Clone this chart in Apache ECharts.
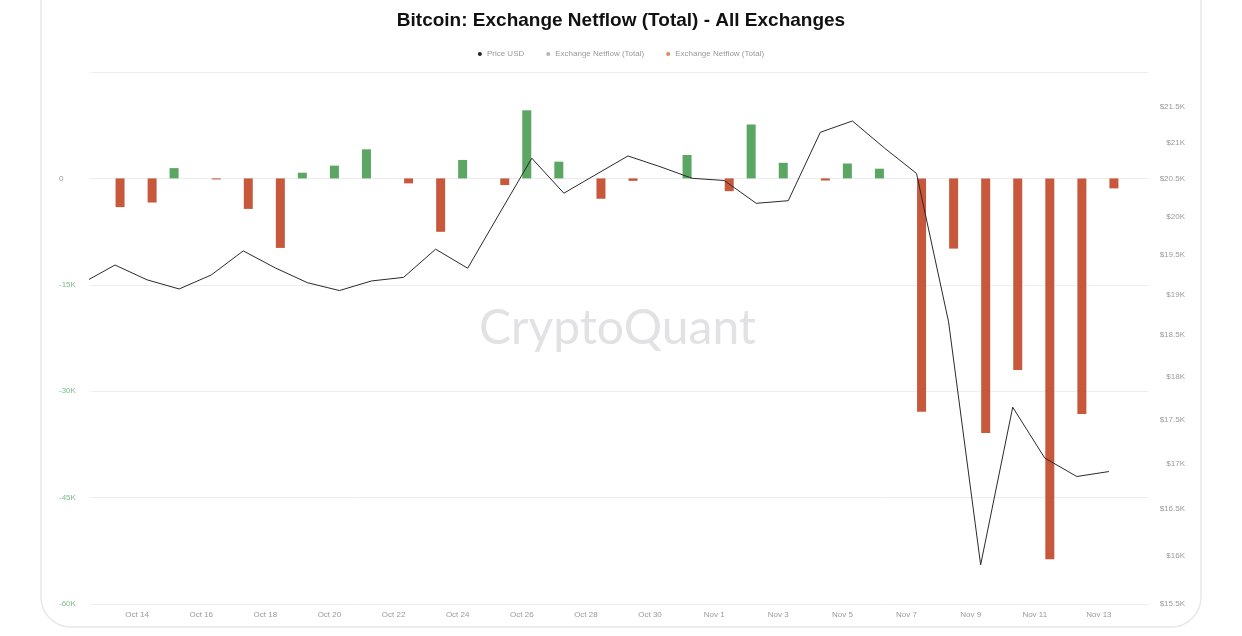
<!DOCTYPE html>
<html>
<head>
<meta charset="utf-8">
<script src="https://cdn.jsdelivr.net/npm/echarts@6/dist/echarts.min.js"></script>
<style>
  html, body { margin: 0; padding: 0; background: #fff; }
  #chart { width: 1242px; height: 636px; }
</style>
</head>
<body>
<div id="chart"></div>
<script>
// day index 0 = Oct 12
var dates = ['Oct 12', 'Oct 13', 'Oct 14', 'Oct 15', 'Oct 16', 'Oct 17', 'Oct 18', 'Oct 19', 'Oct 20', 'Oct 21',
  'Oct 22', 'Oct 23', 'Oct 24', 'Oct 25', 'Oct 26', 'Oct 27', 'Oct 28', 'Oct 29', 'Oct 30', 'Oct 31',
  'Nov 1', 'Nov 2', 'Nov 3', 'Nov 4', 'Nov 5', 'Nov 6', 'Nov 7', 'Nov 8', 'Nov 9', 'Nov 10',
  'Nov 11', 'Nov 12', 'Nov 13'];

var priceUsd = [19150, 19375, 19187, 19072, 19248, 19556, 19338, 19151, 19052, 19173,
  19218, 19578, 19334, 20050, 20786, 20313, 20564, 20817, 20671, 20513,
  20484, 20178, 20213, 21144, 21302, 20926, 20579, 18663, 15905, 17644,
  17063, 16857, 16912];

// exchange netflow (BTC), null = no bar
var netflow = [null, -4050, -3400, 1450, -150, -4300, -9800, 800, 1800, 4100,
  -700, -7530, 2600, -940, 9600, 2360, -2870, -350, null, 3300,
  -1800, 7600, 2200, -300, 2100, 1370, -32900, -9900, -35900, -27000,
  -53700, -33200, -1410];

var xTickDays = [2, 4, 6, 8, 10, 12, 14, 16, 18, 20, 22, 24, 26, 28, 30, 32];
var priceTicks = [15500, 16000, 16500, 17000, 17500, 18000, 18500, 19000, 19500, 20000, 20500, 21000, 21500];
var priceTickLabels = ['$15.5K', '$16K', '$16.5K', '$17K', '$17.5K', '$18K', '$18.5K', '$19K', '$19.5K', '$20K', '$20.5K', '$21K', '$21.5K'];

var inflow = [], outflow = [], priceLine = [];
for (var i = 0; i < dates.length; i++) {
  priceLine.push([i, priceUsd[i]]);
  if (netflow[i] === null) continue;
  if (netflow[i] > 0) inflow.push([i, netflow[i]]);
  else outflow.push([i, netflow[i]]);
}

var myChart = echarts.init(document.getElementById('chart'));
var option = {
  backgroundColor: '#fff',
  animation: false,
  title: {
    text: 'Bitcoin: Exchange Netflow (Total) - All Exchanges',
    left: 'center',
    top: 6,
    textStyle: { fontFamily: 'Liberation Sans', fontSize: 19, fontWeight: 'bold', color: '#111' }
  },
  legend: {
    top: 45,
    left: 'center',
    icon: 'circle',
    itemWidth: 4,
    itemHeight: 4,
    itemGap: 22,
    textStyle: { fontSize: 8, color: '#999', fontFamily: 'Liberation Sans' },
    formatter: function (name) {
      return name === 'Price USD' ? name : 'Exchange Netflow (Total)';
    },
    data: [
      { name: 'Price USD', itemStyle: { color: '#222' } },
      { name: 'Inflow', itemStyle: { color: '#b5b5b5' } },
      { name: 'Outflow', itemStyle: { color: '#e08a5a' } }
    ]
  },
  graphic: [
    {
      type: 'rect', silent: true, z: -10,
      shape: { x: 41, y: -40, width: 1160, height: 667, r: 30 },
      style: { fill: 'none', stroke: '#e8e8e8', lineWidth: 1.5 }
    },
    {
      type: 'text', silent: true, z: -5,
      left: 479, top: 305,
      style: { text: 'CryptoQuant', fontSize: 48, fontFamily: 'Lato', fill: '#e2e2e5' }
    }
  ],
  grid: { left: 90, right: 94, top: 72, bottom: 32 },
  xAxis: {
    type: 'value',
    min: 0.22,
    max: 33.22,
    splitLine: { show: false },
    axisTick: { show: false },
    axisLine: { lineStyle: { color: '#ececec' } },
    axisLabel: {
      customValues: xTickDays,
      formatter: function (v) { return dates[v]; },
      fontSize: 8,
      color: '#9a9a9a',
      margin: 7,
      padding: [0, 20, 0, 0]
    }
  },
  yAxis: [
    {
      type: 'value',
      min: -60000,
      max: 15000,
      interval: 15000,
      axisLine: { show: false },
      axisTick: { show: false },
      splitLine: { lineStyle: { color: '#ededed' } },
      axisLabel: {
        showMaxLabel: false,
        align: 'left',
        margin: 31,
        fontSize: 8,
        color: function (v) { return Number(v) === 0 ? '#999' : '#7fba8c'; },
        formatter: function (v) { return v === 0 ? '0' : (v / 1000) + 'K'; }
      }
    },
    {
      type: 'log',
      min: 15500,
      max: 22000,
      position: 'right',
      axisLine: { show: false },
      axisTick: { show: false },
      splitLine: { show: false },
      axisLabel: {
        customValues: priceTicks,
        align: 'right',
        margin: 37,
        fontSize: 8,
        color: '#9a9a9a',
        formatter: function (v) {
          var k = priceTicks.indexOf(Math.round(v));
          return k >= 0 ? priceTickLabels[k] : '';
        }
      }
    }
  ],
  series: [
    {
      name: 'Inflow',
      type: 'bar',
      data: inflow,
      barWidth: 9,
      barGap: '12%',
      itemStyle: { color: '#5aa662' }
    },
    {
      name: 'Outflow',
      type: 'bar',
      data: outflow,
      barWidth: 9,
      barGap: '12%',
      itemStyle: { color: '#c8583c' }
    },
    {
      name: 'Price USD',
      type: 'line',
      yAxisIndex: 1,
      data: priceLine,
      showSymbol: false,
      z: 5,
      lineStyle: { color: '#2a2a2a', width: 1 },
      itemStyle: { color: '#222' }
    }
  ]
};
myChart.setOption(option);
</script>
</body>
</html>
